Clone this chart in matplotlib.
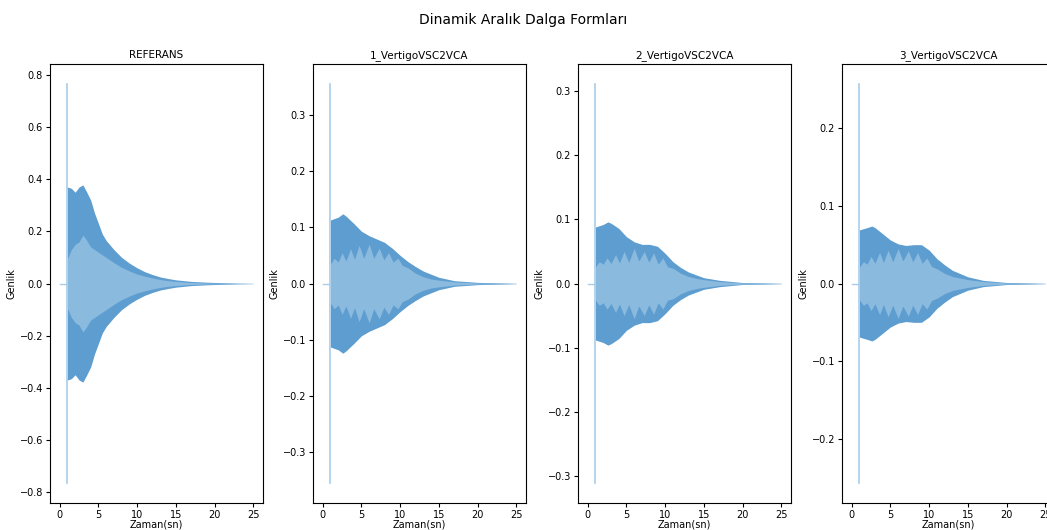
import matplotlib
matplotlib.use("Agg")
import matplotlib.pyplot as plt
import numpy as np

# waveform envelopes (seconds, amplitude)
basliklar = ["REFERANS", "1_VertigoVSC2VCA", "2_VertigoVSC2VCA", "3_VertigoVSC2VCA"]
impuls_zamani = 1.0
impuls_tepe = [0.765, 0.355, 0.311, 0.257]

ref_t = [1, 1.5, 2, 2.5, 3, 3.5, 4, 4.5, 5, 5.5, 6, 7, 8, 9, 10, 11, 12, 13, 14, 15, 17, 19, 21, 23, 25]
ref_dis = [0.37, 0.365, 0.35, 0.37, 0.378, 0.35, 0.32, 0.27, 0.23, 0.19, 0.165, 0.13, 0.10, 0.078, 0.06,
           0.045, 0.034, 0.025, 0.019, 0.014, 0.008, 0.005, 0.003, 0.0015, 0.0005]
ref_ic = [0.095, 0.13, 0.15, 0.16, 0.186, 0.165, 0.14, 0.13, 0.12, 0.11, 0.10, 0.08, 0.062, 0.048, 0.036,
          0.028, 0.021, 0.015, 0.011, 0.008, 0.004, 0.002, 0.001, 0.0005, 0.0002]

dis_t = [1, 2, 2.6, 3, 4, 5, 6, 7, 8, 9, 10, 11, 12, 13, 15, 17, 20, 25]
v1_dis = [0.113, 0.118, 0.124, 0.12, 0.107, 0.093, 0.085, 0.079, 0.073, 0.0625, 0.05, 0.039, 0.030, 0.022,
          0.011, 0.005, 0.002, 0.0003]
v2_dis = [0.088, 0.092, 0.096, 0.094, 0.086, 0.073, 0.065, 0.061, 0.061, 0.058, 0.047, 0.034, 0.025, 0.018,
          0.009, 0.005, 0.0015, 0.0003]
v3_dis = [0.069, 0.072, 0.074, 0.072, 0.064, 0.056, 0.051, 0.049, 0.050, 0.050, 0.043, 0.032, 0.024, 0.017,
          0.0086, 0.004, 0.0013, 0.0002]

ic_t = [1, 1.5, 2.0, 2.5, 3.0, 3.6, 4.1, 4.7, 5.3, 6.0, 6.6, 7.3, 7.9, 8.5, 9.1, 9.7, 10.3, 11, 12, 13, 14,
        15, 17, 20, 25]
v1_ic = [0.035, 0.045, 0.038, 0.055, 0.04, 0.062, 0.043, 0.068, 0.045, 0.07, 0.045, 0.063, 0.042, 0.055,
         0.038, 0.045, 0.032, 0.028, 0.018, 0.012, 0.008, 0.006, 0.003, 0.001, 0.0001]
v2_ic = [0.026, 0.034, 0.03, 0.04, 0.031, 0.045, 0.032, 0.05, 0.033, 0.055, 0.035, 0.05, 0.033, 0.048,
         0.03, 0.04, 0.026, 0.024, 0.016, 0.011, 0.008, 0.006, 0.003, 0.001, 0.0001]
v3_ic = [0.021, 0.028, 0.025, 0.035, 0.026, 0.04, 0.027, 0.043, 0.028, 0.045, 0.029, 0.042, 0.028, 0.04,
         0.026, 0.033, 0.022, 0.019, 0.013, 0.009, 0.007, 0.005, 0.0025, 0.0008, 0.0001]

dis_zarflar = [(ref_t, ref_dis), (dis_t, v1_dis), (dis_t, v2_dis), (dis_t, v3_dis)]
ic_zarflar = [(ref_t, ref_ic), (ic_t, v1_ic), (ic_t, v2_ic), (ic_t, v3_ic)]

koyu = "#5d9dd0"
acik = "#8bbadf"
cizgi = "#a8cce9"

fig = plt.figure(figsize=(10.47, 5.30), dpi=100)
fig.suptitle("Dinamik Aralık Dalga Formları", fontsize=10, y=0.975)

solkenar = [50, 313, 578, 842]
for i, baslik in enumerate(basliklar):
    ax = fig.add_axes([solkenar[i] / 1047, 27 / 530, 213 / 1047, 439 / 530])
    t_d, a_d = np.array(dis_zarflar[i][0]), np.array(dis_zarflar[i][1])
    t_i, a_i = np.array(ic_zarflar[i][0]), np.array(ic_zarflar[i][1])
    ax.fill_between(t_d, -a_d, a_d, color=koyu, lw=0)
    ax.fill_between(t_i, -a_i, a_i, color=acik, lw=0)
    ax.plot([0, impuls_zamani], [0, 0], color=cizgi, lw=1)
    ax.plot([impuls_zamani, impuls_zamani], [-impuls_tepe[i], impuls_tepe[i]], color=cizgi, lw=1.2)
    ax.set_title(baslik, fontsize=7.5, pad=4)
    ax.set_xlabel("Zaman(sn)", fontsize=7, labelpad=0)
    ax.set_ylabel("Genlik", fontsize=7, labelpad=2)
    ax.tick_params(labelsize=7, pad=2, length=3)
    ax.set_xticks([0, 5, 10, 15, 20, 25])

fig.savefig("out.png", dpi=100)
